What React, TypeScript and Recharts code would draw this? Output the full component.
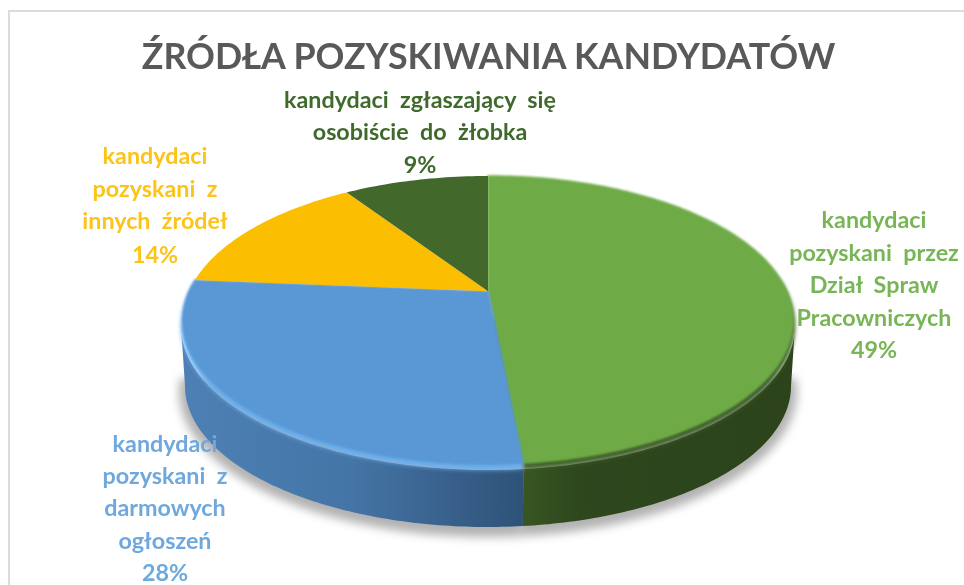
import React from "react";
import { PieChart, Pie } from "recharts";

const titleText = "ŹRÓDŁA POZYSKIWANIA KANDYDATÓW";
const sliceNames = [
  "kandydaci pozyskani przez Dział Spraw Pracowniczych",
  "kandydaci pozyskani z darmowych ogłoszeń",
  "kandydaci pozyskani z innych źródeł",
  "kandydaci zgłaszający się osobiście do żłobka",
];
const sliceValues = [48.5, 27.8, 14.4, 9.3];
const sliceColors = ["#6eab46", "#5a98d5", "#fbbe00", "#43682b"];
const labelColors = ["#78b556", "#6fa8dc", "#fcc419", "#3f6a2c"];
const rimColors = ["#3d5f27", "#66adee", "#fbbe00", "#43682b"];
const labelLines = [
  ["kandydaci", "pozyskani  przez", "Dział  Spraw", "Pracowniczych"],
  ["kandydaci", "pozyskani  z", "darmowych", "ogłoszeń"],
  ["kandydaci", "pozyskani  z", "innych  źródeł"],
  ["kandydaci  zgłaszający  się", "osobiście  do  żłobka"],
];

const data = sliceNames.map((name, i) => ({ name, value: sliceValues[i], fill: sliceColors[i] }));

// presentation geometry
const CX = 488;
const CY = 320;
const RX = 305;
const RY_RATIO = 144 / 305;
const APEX = 0.2; // perspective shift of the pie's centre
const labelCenters = [874, 165, 155, 420];
const labelBaselines = [
  [228, 261, 293, 326, 358],
  [452, 484, 516, 549, 581],
  [164, 197, 229, 263],
  [108, 140, 173],
];

const DEG = Math.PI / 180;
function thetaToParam(theta: number) {
  if (theta <= 0) return 0;
  if (theta >= 360) return 360;
  const c = Math.cos(theta * DEG);
  const s = Math.sin(theta * DEG);
  const d = 1 + APEX * c;
  const u = (c + APEX) / d;
  const v = (s * Math.sqrt(1 - APEX * APEX)) / d;
  let t = Math.atan2(v, u) / DEG;
  if (t < 0) t += 360;
  return t;
}
function arcPts(cx: number, cy: number, rx: number, ry: number, t0: number, t1: number) {
  const n = Math.max(2, Math.ceil(Math.abs(t1 - t0)));
  const pts: string[] = [];
  for (let i = 0; i <= n; i++) {
    const t = (t0 + ((t1 - t0) * i) / n) * DEG;
    pts.push(`${(cx + rx * Math.sin(t)).toFixed(2)},${(cy - ry * Math.cos(t)).toFixed(2)}`);
  }
  return pts;
}
function sliceIndex(p: any) {
  return sliceNames.indexOf(p.name ?? p.payload?.name);
}
function params(p: any) {
  return [thetaToParam(90 - p.startAngle), thetaToParam(90 - p.endAngle)];
}

function ShadowShape(p: any) {
  const [a, b] = params(p);
  const t0 = Math.max(a, 85);
  const t1 = Math.min(b, 275);
  if (t1 <= t0) return <g />;
  const ry = p.outerRadius * RY_RATIO;
  const pts = arcPts(p.cx, p.cy + 71, p.outerRadius + 4, ry + 2, t0, t1);
  const d = `M${p.cx},${p.cy + 60} L${pts.join(" L")} Z`;
  return <path d={d} fill="#000" fillOpacity={0.3} filter="url(#softShadow)" />;
}

function WallShape(p: any) {
  const [a, b] = params(p);
  const t0 = Math.max(a, 90);
  const t1 = Math.min(b, 270);
  if (t1 <= t0) return <g />;
  const i = sliceIndex(p);
  const ry = p.outerRadius * RY_RATIO;
  const top = arcPts(p.cx, p.cy + 6, p.outerRadius + 2, ry, t0, t1);
  const bottom = arcPts(p.cx, p.cy + 66, p.outerRadius - 2, ry - 3, t1, t0);
  const d = `M${top.join(" L")} L${bottom.join(" L")} Z`;
  return <path d={d} fill={`url(#wall${i})`} />;
}

function RimShape(p: any) {
  const [a, b] = params(p);
  const i = sliceIndex(p);
  if (i > 1) return <g />;
  const ry = p.outerRadius * RY_RATIO;
  const pts = arcPts(p.cx, p.cy + 6, p.outerRadius + 2, ry, Math.max(a, 72), b);
  return <path d={`M${p.cx},${p.cy} L${pts.join(" L")} Z`} fill={rimColors[i]} filter="url(#rimBlur)" />;
}

function FaceShape(p: any) {
  const [a, b] = params(p);
  const i = sliceIndex(p);
  const ry = p.outerRadius * RY_RATIO;
  const pts = arcPts(p.cx, p.cy, p.outerRadius, ry, a, b);
  const apexY = p.cy - APEX * ry;
  const d = `M${p.cx},${apexY} L${pts.join(" L")} Z`;
  if (i >= 2) return <path d={d} fill={p.fill} />;
  return <path d={d} fill={p.fill} stroke={p.fill} strokeWidth={1.6} strokeLinejoin="round" filter="url(#faceBlur)" />;
}

function SliceLabel(p: any) {
  const i = sliceIndex(p);
  const rows = [...labelLines[i], `${Math.round(p.value)}%`];
  return (
    <text
      textAnchor="middle"
      fontFamily="Lato"
      fontWeight={700}
      fontSize={23.3}
      fill={labelColors[i]}
      style={{ whiteSpace: "pre" }}
    >
      {rows.map((row, r) => (
        <tspan key={r} x={labelCenters[i]} y={labelBaselines[i][r]}>
          {row}
        </tspan>
      ))}
    </text>
  );
}

const common = {
  data,
  dataKey: "value",
  nameKey: "name",
  cx: CX,
  cy: CY,
  innerRadius: 0,
  outerRadius: RX,
  startAngle: 90,
  endAngle: -270,
  stroke: "none",
  isAnimationActive: false,
  labelLine: false,
  rootTabIndex: -1,
};

export default function App() {
  return (
    <div style={{ position: "absolute", left: 0, top: 0, width: 964, height: 585, background: "#fff", overflow: "hidden" }}>
      <div style={{ position: "absolute", left: 8, top: 10, width: 1000, height: 700, border: "2px solid #dcdcdc", boxSizing: "border-box", filter: "blur(0.4px)" }} />
      <div style={{ position: "absolute", left: 0, top: 0, filter: "blur(0.45px)" }}>
        <PieChart width={964} height={585} margin={{ top: 0, right: 0, bottom: 0, left: 0 }}>
          <defs>
            <filter id="softShadow" x="-20%" y="-20%" width="140%" height="140%">
              <feGaussianBlur stdDeviation="5" />
            </filter>
            <filter id="rimBlur" x="-5%" y="-5%" width="110%" height="110%">
              <feGaussianBlur stdDeviation="2" />
            </filter>
            <filter id="faceBlur" x="-5%" y="-5%" width="110%" height="110%">
              <feGaussianBlur stdDeviation="0.8" />
            </filter>
            <linearGradient id="wall0" x1="0" y1="0" x2="1" y2="0">
              <stop offset="0" stopColor="#385623" />
              <stop offset="0.2" stopColor="#2e471d" />
              <stop offset="1" stopColor="#2c431b" />
            </linearGradient>
            <linearGradient id="wall1" x1="0" y1="0" x2="1" y2="0">
              <stop offset="0" stopColor="#4f80b5" />
              <stop offset="0.5" stopColor="#4475a6" />
              <stop offset="0.8" stopColor="#385f8a" />
              <stop offset="1" stopColor="#2e5378" />
            </linearGradient>
          </defs>
          <text x={488.5} y={69} textAnchor="middle" fontFamily="Lato" fontWeight={700} fontSize={35.8} fill="#595959">
            {titleText}
          </text>
          <Pie {...common} shape={ShadowShape} inactiveShape={ShadowShape} />
          <Pie {...common} shape={WallShape} inactiveShape={WallShape} />
          <Pie {...common} shape={RimShape} inactiveShape={RimShape} />
          <Pie {...common} shape={FaceShape} inactiveShape={FaceShape} label={SliceLabel} />
        </PieChart>
      </div>
    </div>
  );
}
